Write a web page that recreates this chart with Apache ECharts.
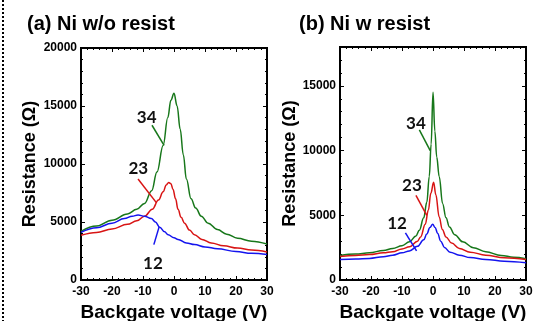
<!DOCTYPE html>
<html><head><meta charset="utf-8">
<script src="https://cdn.jsdelivr.net/npm/echarts@6/dist/echarts.min.js"></script>
<style>html,body{margin:0;padding:0;background:#fff}#c{width:548px;height:321px}</style>
</head><body><div id="c"></div>
<script>
// Panel (a) Ni w/o resist : [Vg (V), R (Ohm)]
const greenA = [[-30,4200],[-25,4650],[-20,5150],[-15,5700],[-12,6100],[-9.5,6600],[-7.2,7700],[-5.5,9300],[-3.5,11600],[-2,14000],[-1,15500],[0,16100],[1,15000],[2,13000],[3,10800],[4,8700],[5.5,7000],[7,6200],[8.8,5500],[11,4900],[14,4350],[17,3950],[20.5,3600],[25,3350],[30,3100]];
const redA = [[-30,3850],[-25,4100],[-20,4400],[-15,4800],[-12,5100],[-9.5,5500],[-7,6100],[-5,6900],[-3.5,7600],[-2.5,8200],[-1.7,8400],[-1,8300],[-0.3,7800],[0.5,7000],[1.3,6100],[2.3,5400],[3.4,4900],[5,4300],[6.6,3900],[9,3500],[12,3200],[16,2950],[20.5,2750],[25,2580],[30,2420]];
const blueA = [[-30,4100],[-25,4500],[-20,4900],[-16,5300],[-13.5,5500],[-11.6,5600],[-9.5,5500],[-7.3,5300],[-6,5000],[-4.6,4550],[-3,4150],[-1.9,3900],[0,3650],[1.3,3500],[4,3200],[6.6,3050],[10,2850],[14,2700],[20,2450],[25,2300],[30,2200]];
// Panel (b) Ni w resist
const greenB = [[-30,1900],[-25,2000],[-20.5,2100],[-16,2280],[-13,2440],[-10,2650],[-7.6,2950],[-5.5,3400],[-4.4,3850],[-3,4800],[-2,6000],[-1.2,8000],[-0.6,10500],[0,14500],[0.6,11500],[1.2,9500],[2,8000],[3.1,5900],[4.2,4800],[5.3,4100],[7,3500],[9.6,2950],[13,2500],[17,2180],[22,1900],[26,1760],[30,1650]];
const redB = [[-30,1820],[-25,1900],[-20.5,1970],[-16,2100],[-13,2180],[-10,2400],[-7.6,2560],[-5,3000],[-4,3330],[-2.5,4300],[-1.5,5400],[-0.7,6700],[0.2,7550],[0.9,6600],[2,4870],[3,3900],[4.2,3330],[6,2850],[8.5,2440],[12,2150],[17,1920],[23,1720],[30,1580]];
const blueB = [[-30,1580],[-25,1620],[-20.5,1670],[-16,1800],[-13,1920],[-10,2100],[-7.6,2250],[-5,2600],[-3,3100],[-2,3550],[-1,4050],[-0.1,4300],[0.7,4050],[1.5,3590],[2.5,3000],[3.7,2510],[5.5,2150],[8.5,1920],[12,1730],[17,1590],[23,1450],[30,1330]];
// Curve labels: [text, labelPos, leaderStart, leaderEnd]
const labelsA = {g:['34',[-8.8,14000],[-7.1,13340],[-3.2,11600]], r:['23',[-11.5,9600],[-11.6,8700],[-5.7,6670]], b:['12',[-6.8,1450],[-6.5,3050],[-4.8,4580]]};
const labelsB = {g:['34',[-5.5,12120],[-4.4,11590],[-0.9,10000]], r:['23',[-6.8,7300],[-5.5,6540],[-2.0,5000]], b:['12',[-11.6,4400],[-8.9,3640],[-5.3,2250]]};
const titles = ['(a) Ni w/o resist','(b) Ni w resist'];
const xName = 'Backgate voltage (V)', yName = 'Resistance (\u03A9)';

const GREEN='#17771a', RED='#d81414', BLUE='#1414ee';
const chart = echarts.init(document.getElementById('c'));
const tickFont = {fontFamily:'Liberation Sans',fontWeight:'bold',fontSize:12,color:'#000',formatter:v=>String(v)};
function xAx(g, main){
  return {type:'value',gridIndex:g,min:-30,max:30,interval:10,position:main?'bottom':'top',show:true,
    axisLine:{show:true,onZero:false,lineStyle:{color:'#000',width:2}},
    axisTick:{show:true,inside:true,length:4,lineStyle:{color:'#000',width:1}},
    minorTick:{show:true,splitNumber:5,length:2,lineStyle:{color:'#000'}},
    axisLabel:main?Object.assign({show:true,margin:6},tickFont):{show:false},
    splitLine:{show:false},
    name:main?xName:'',nameLocation:'middle',nameGap:19,
    nameTextStyle:{fontFamily:'Liberation Sans',fontWeight:'bold',fontSize:19,color:'#000'}};
}
function yAx(g, main, max, gap, showMax){
  return {type:'value',gridIndex:g,min:0,max:max,interval:5000,position:main?'left':'right',show:true,
    axisLine:{show:true,onZero:false,lineStyle:{color:'#000',width:2}},
    axisTick:{show:true,inside:true,length:4,lineStyle:{color:'#000',width:1}},
    minorTick:{show:true,splitNumber:5,length:2,lineStyle:{color:'#000'}},
    axisLabel:main?Object.assign({show:true,margin:4,showMaxLabel:showMax},tickFont):{show:false},
    splitLine:{show:false},
    name:main?yName:'',nameLocation:'middle',nameGap:gap,nameRotate:90,
    nameTextStyle:{fontFamily:'Liberation Sans',fontWeight:'bold',fontSize:18,color:'#000'}};
}
function ser(data, color, xi, yi, lab){
  return {type:'line',xAxisIndex:xi,yAxisIndex:yi,data:data,showSymbol:false,symbol:'none',
    smooth:0.4,smoothMonotone:'x',lineStyle:{color:color,width:1.5},itemStyle:{color:color},silent:true,
    markLine:{silent:true,symbol:'none',label:{show:false},lineStyle:{color:color,width:1.5,type:'solid'},
      data:[[{coord:lab[2]},{coord:lab[3]}]]},
    markPoint:{silent:true,symbol:'circle',symbolSize:0,
      label:{show:true,formatter:lab[0],fontFamily:'Lato',fontWeight:'bold',fontSize:17,color:'#111'},
      data:[{coord:lab[1]}]}};
}
function dummy(xi, yi){
  return {type:'line',xAxisIndex:xi,yAxisIndex:yi,data:[],silent:true};
}
chart.setOption({
  animation:false,
  title:[
    {text:titles[0],left:22,top:9,textStyle:{fontFamily:'Liberation Sans',fontWeight:'bold',fontSize:20,color:'#000'}},
    {text:titles[1],left:294,top:9,textStyle:{fontFamily:'Liberation Sans',fontWeight:'bold',fontSize:20,color:'#000'}}
  ],
  grid:[{left:81,right:281,top:48,bottom:41,show:true,borderColor:'#000',borderWidth:2,containLabel:false,outerBoundsMode:'none'},
        {left:340,right:22,top:47,bottom:41,show:true,borderColor:'#000',borderWidth:2,containLabel:false,outerBoundsMode:'none'}],
  xAxis:[xAx(0,true),xAx(0,false),xAx(1,true),xAx(1,false)],
  yAxis:[yAx(0,true,20000,42,true),yAx(0,false,20000,0,false),yAx(1,true,18000,38,false),yAx(1,false,18000,0,false)],
  series:[
    ser(greenA,GREEN,0,0,labelsA.g),ser(redA,RED,0,0,labelsA.r),ser(blueA,BLUE,0,0,labelsA.b),
    ser(greenB,GREEN,2,2,labelsB.g),ser(redB,RED,2,2,labelsB.r),ser(blueB,BLUE,2,2,labelsB.b),
    dummy(1,1),dummy(3,3)
  ],
  graphic:[{type:'line',shape:{x1:3,y1:0,x2:3,y2:321},style:{stroke:'#000',lineWidth:2,lineDash:[2,2]}}]
});
</script></body></html>
